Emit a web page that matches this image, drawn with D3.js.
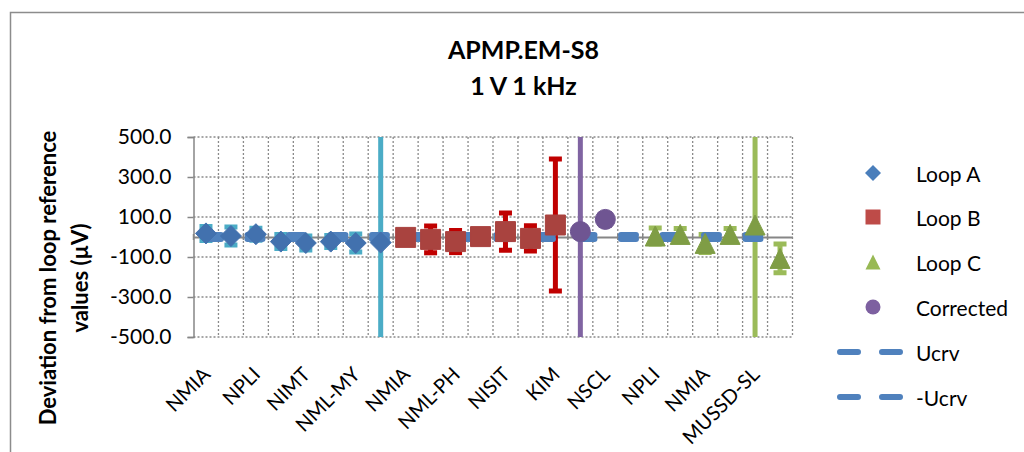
<!DOCTYPE html>
<html>
<head>
<meta charset="utf-8">
<script src="https://cdn.jsdelivr.net/npm/d3@7/dist/d3.min.js"></script>
<style>
  html, body { margin: 0; padding: 0; background: #ffffff; }
  svg { display: block; }
  text { font-family: Lato, "Noto Sans", sans-serif; fill: #000; }
</style>
</head>
<body>
<svg id="chart" width="1024" height="452"></svg>
<script>
// ---------------- data ----------------
const titleLines = ["APMP.EM-S8", "1 V 1 kHz"];
const yTitleLines = ["Deviation from loop reference", "values (\u00B5V)"];
const categoryIndex = [0,1,2,3,4,5,6,7,8,9,10,11,12,13,14,15,16,17,18,19,20,21,22,23];
const tickLabels = ["NMIA","NPLI","NIMT","NML-MY","NMIA","NML-PH","NISIT","KIM","NSCL","NPLI","NMIA","MUSSD-SL"];
const tickCategories = [0,2,4,6,8,10,12,14,16,18,20,22];
const yTicks = [-500, -300, -100, 100, 300, 500];

const loopA     = [18, 5, 14, -23, -30, -23, -30, -28, null,null,null,null,null,null,null,null,null,null,null,null,null,null,null,null];
const loopAErr  = [35, 45, 30, 35, 35, 30, 45, 3000, null,null,null,null,null,null,null,null,null,null,null,null,null,null,null,null];
const loopB     = [null,null,null,null,null,null,null,null, -2, -12, -23, 2, 27, -7, 60, null,null,null,null,null,null,null,null,null];
const loopBErr  = [null,null,null,null,null,null,null,null, 35, 67, 55, 30, 93, 63, 330, null,null,null,null,null,null,null,null,null];
const loopC     = [null,null,null,null,null,null,null,null,null,null,null,null,null,null,null,null,null,null, 5, 13, -32, 13, 60, -107];
const loopCErr  = [null,null,null,null,null,null,null,null,null,null,null,null,null,null,null,null,null,null, 40, 30, 45, 30, 3000, 72];
const corrected    = [null,null,null,null,null,null,null,null,null,null,null,null,null,null,null, 27, 88, null,null,null,null,null,null,null];
const correctedErr = [null,null,null,null,null,null,null,null,null,null,null,null,null,null,null, 3000, 30, null,null,null,null,null,null,null];
const ucrv      = [10,10,10,10,10,10,10,10,10,10,10,10,10,10,10,10,10,10,10,10,10,10,10,10];
const negUcrv   = [-10,-10,-10,-10,-10,-10,-10,-10,-10,-10,-10,-10,-10,-10,-10,-10,-10,-10,-10,-10,-10,-10,-10,-10];
const legendNames = ["Loop A", "Loop B", "Loop C", "Corrected", "Ucrv", "-Ucrv"];

// ---------------- layout ----------------
const svg = d3.select("#chart");
const plot = { left: 193.5, right: 792.5, top: 137, bottom: 337 };
const x = d3.scaleBand().domain(categoryIndex).range([plot.left, plot.right]).padding(0);
const cx = i => x(i) + x.bandwidth() / 2;
const y = d3.scaleLinear().domain([-500, 500]).range([plot.bottom, plot.top]);

const gridColor = "#8a8a8a";
const axisColor = "#868686";

// frame
svg.append("rect").attr("x", 10.5).attr("y", 12.5).attr("width", 1100).attr("height", 600)
  .attr("fill", "none").attr("stroke", "#8c8c8c").attr("stroke-width", 1.5);

// title
svg.append("g").selectAll("text").data(titleLines).enter().append("text")
  .attr("x", 523.5).attr("y", (d, i) => 59 + i * 36)
  .attr("text-anchor", "middle").attr("font-size", 25).attr("font-weight", "bold")
  .text(d => d);

// y axis title
svg.append("g").selectAll("text").data(yTitleLines).enter().append("text")
  .attr("transform", (d, i) => `translate(${47 + i * 32},278) rotate(-90)`)
  .attr("text-anchor", "middle").attr("dominant-baseline", "central")
  .attr("font-size", 22).attr("font-weight", "bold")
  .text(d => d);

// gridlines
const grid = svg.append("g");
grid.selectAll("line.h").data(yTicks).enter().append("line")
  .attr("x1", plot.left).attr("x2", plot.right)
  .attr("y1", d => y(d)).attr("y2", d => y(d))
  .attr("stroke", gridColor).attr("stroke-width", 1.3).attr("stroke-dasharray", "2 2");
grid.selectAll("line.v").data(categoryIndex).enter().append("line")
  .attr("x1", d => x(d) + x.bandwidth()).attr("x2", d => x(d) + x.bandwidth())
  .attr("y1", plot.top).attr("y2", plot.bottom)
  .attr("stroke", gridColor).attr("stroke-width", 1.3).attr("stroke-dasharray", "2 2");

// y axis
const yAxis = d3.axisLeft(y).tickValues(yTicks).tickSize(6).tickPadding(16)
  .tickFormat(d => d.toFixed(1));
const gy = svg.append("g").attr("transform", `translate(${plot.left},0)`).call(yAxis);
gy.select(".domain").attr("stroke", axisColor).attr("stroke-width", 1.5);
gy.selectAll(".tick line").attr("stroke", axisColor).attr("stroke-width", 1.5);
gy.selectAll(".tick text").attr("font-size", 21).attr("font-family", "Lato, sans-serif").attr("fill", "#000");

// zero axis line with category ticks
const gx0 = svg.append("g").attr("transform", `translate(0,${y(0)})`)
  .call(d3.axisBottom(x).tickValues([]).tickSizeOuter(0));
gx0.select(".domain").attr("stroke", axisColor).attr("stroke-width", 2);
svg.append("g").selectAll("line").data(categoryIndex).enter().append("line")
  .attr("x1", d => x(d)).attr("x2", d => x(d))
  .attr("y1", y(0) - 3).attr("y2", y(0) + 3)
  .attr("stroke", axisColor).attr("stroke-width", 1.5);

// x tick labels (low position)
const xAxis = d3.axisBottom(x).tickValues(tickCategories).tickSize(0)
  .tickFormat(d => tickLabels[tickCategories.indexOf(d)]);
const gx = svg.append("g").attr("transform", `translate(0,${plot.bottom})`).call(xAxis);
gx.select(".domain").remove();
gx.selectAll(".tick text")
  .attr("font-size", 20).attr("font-family", "Lato, sans-serif").attr("fill", "#000")
  .attr("text-anchor", "end").attr("dominant-baseline", "central")
  .attr("y", 0).attr("dy", null)
  .attr("transform", "translate(0,33) rotate(-45)");

// clip
svg.append("clipPath").attr("id", "plotclip").append("rect")
  .attr("x", plot.left - 20).attr("y", plot.top).attr("width", plot.right - plot.left + 40).attr("height", plot.bottom - plot.top);

const series = [
  { name: "Loop A", vals: loopA, err: loopAErr, color: "#4271AE", legendColor: "#4A7EBB", errColor: "#4BACC6", shape: "diamond" },
  { name: "Loop B", vals: loopB, err: loopBErr, color: "#A9433F", legendColor: "#BE4B48", errColor: "#C00000", shape: "square" },
  { name: "Loop C", vals: loopC, err: loopCErr, color: "#7F9D45", legendColor: "#98B954", errColor: "#9BBB59", shape: "triangle" },
  { name: "Corrected", vals: corrected, err: correctedErr, color: "#6F5592", legendColor: "#7D60A0", errColor: "#8064A2", shape: "circle" }
];

function pts(s) {
  return categoryIndex.filter(i => s.vals[i] !== null).map(i => ({ i: i, v: s.vals[i], e: s.err[i] }));
}

// error bars
const errG = svg.append("g").attr("clip-path", "url(#plotclip)");
series.forEach(s => {
  const g = errG.append("g");
  const p = pts(s);
  g.selectAll("line.bar").data(p).enter().append("line")
    .attr("x1", d => cx(d.i)).attr("x2", d => cx(d.i))
    .attr("y1", d => y(d.v + d.e)).attr("y2", d => y(d.v - d.e))
    .attr("stroke", s.errColor).attr("stroke-width", 5);
  ["+", "-"].forEach(sign => {
    g.selectAll("line.cap" + (sign === "+" ? "p" : "m")).data(p).enter().append("line")
      .attr("x1", d => cx(d.i) - 6.5).attr("x2", d => cx(d.i) + 6.5)
      .attr("y1", d => y(sign === "+" ? d.v + d.e : d.v - d.e))
      .attr("y2", d => y(sign === "+" ? d.v + d.e : d.v - d.e))
      .attr("stroke", s.errColor).attr("stroke-width", 5);
  });
});

// Ucrv lines
const lineGen = d3.line().x((d, k) => cx(categoryIndex[k])).y(d => y(d));
[ucrv, negUcrv].forEach(arr => {
  svg.append("path").attr("d", lineGen(arr))
    .attr("fill", "none").attr("stroke", "#4F81BD").attr("stroke-width", 6)
    .attr("stroke-linecap", "round").attr("stroke-dasharray", "15 26.5");
});

// markers
function symbolPath(shape, size) {
  const h = size / 2;
  if (shape === "diamond") return `M0,${-h}L${h},0L0,${h}L${-h},0Z`;
  if (shape === "square") return `M${-h},${-h}H${h}V${h}H${-h}Z`;
  if (shape === "triangle") return `M0,${-h}L${h},${h}L${-h},${h}Z`;
  return d3.symbol().type(d3.symbolCircle).size(Math.PI * h * h)();
}
series.forEach(s => {
  svg.append("g").selectAll("path").data(pts(s)).enter().append("path")
    .attr("transform", d => `translate(${cx(d.i)},${y(d.v)})`)
    .attr("d", symbolPath(s.shape, s.shape === "diamond" ? 21 : 20))
    .attr("fill", s.color).attr("stroke", s.color).attr("stroke-width", 1);
});

// legend
const legendY = [173, 217, 262, 307, 352, 397];
const leg = svg.append("g");
series.forEach((s, k) => {
  leg.append("path").attr("transform", `translate(873,${legendY[k]})`)
    .attr("d", symbolPath(s.shape, s.shape === "diamond" ? 16 : 15))
    .attr("fill", s.legendColor);
});
[4, 5].forEach(k => {
  leg.append("line").attr("x1", 840).attr("x2", 900).attr("y1", legendY[k]).attr("y2", legendY[k])
    .attr("stroke", "#4F81BD").attr("stroke-width", 6).attr("stroke-linecap", "round")
    .attr("stroke-dasharray", "18 24");
});
leg.selectAll("text").data(legendNames).enter().append("text")
  .attr("x", 916).attr("y", (d, k) => legendY[k])
  .attr("dominant-baseline", "central").attr("font-size", 21)
  .text(d => d);
</script>
</body>
</html>
